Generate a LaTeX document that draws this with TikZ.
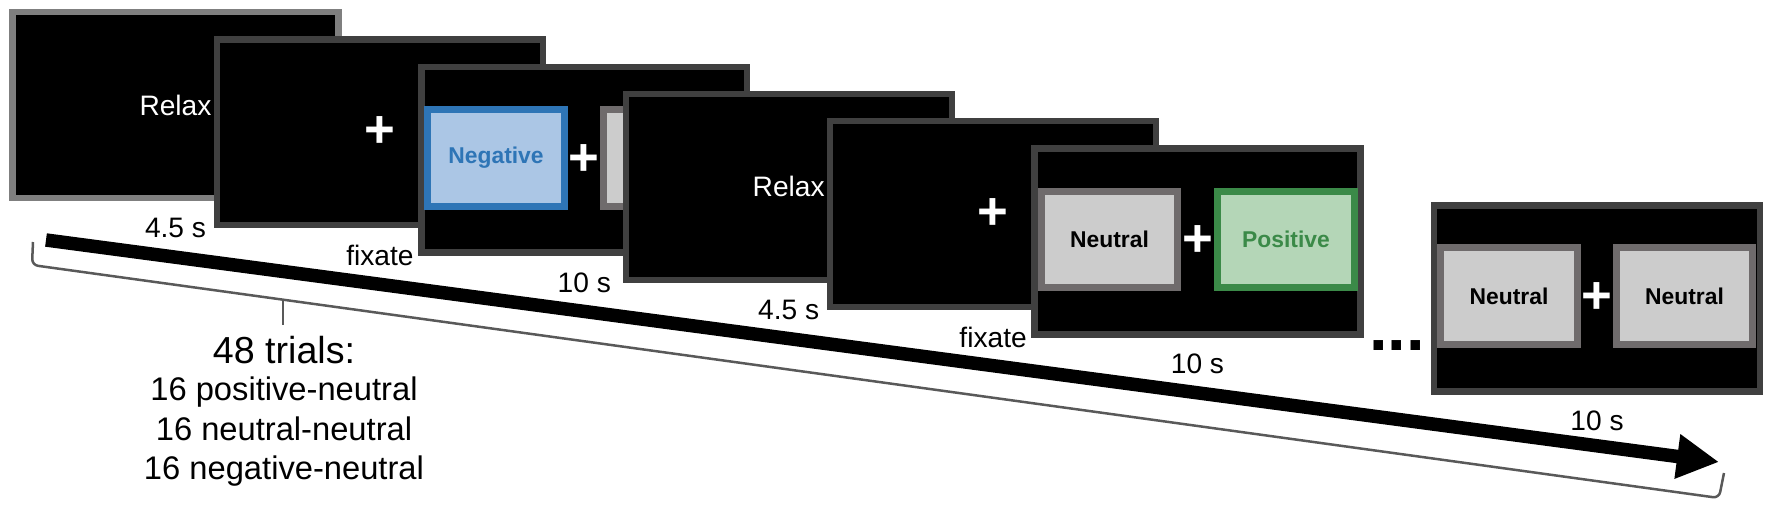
\documentclass[tikz,border=0pt]{standalone}
\usepackage{fontspec}
\setmainfont{Liberation Sans}
\usetikzlibrary{arrows.meta,positioning}

\definecolor{scrline}{HTML}{404040}
\definecolor{scrold}{HTML}{7F7F7F}
\definecolor{neuedge}{HTML}{6F6B6C}
\definecolor{neufill}{HTML}{CCCCCC}
\definecolor{negedge}{HTML}{2E75B6}
\definecolor{negfill}{HTML}{ABC6E5}
\definecolor{posedge}{HTML}{3B8A48}
\definecolor{posfill}{HTML}{B4D6B7}
\definecolor{brgray}{HTML}{595959}

\begin{document}
\begin{tikzpicture}[x=0.01cm,y=-0.01cm,
  scr/.style={draw=scrline,fill=black,line width=0.63mm,inner sep=0pt,
    minimum width=3.257cm,minimum height=1.857cm},
  word/.style={text=white,font=\fontsize{8pt}{9pt}\selectfont},
  cross/.style={text=white,font=\fontsize{15pt}{15pt}\selectfont\bfseries},
  img/.style={line width=0.7mm,inner sep=0pt,minimum width=1.36cm,minimum height=0.96cm,
    font=\fontsize{6.5pt}{7pt}\selectfont\bfseries},
  neubox/.style={img,draw=neuedge,fill=neufill,text=black},
  negbox/.style={img,draw=negedge,fill=negfill,text=negedge},
  posbox/.style={img,draw=posedge,fill=posfill,text=posedge},
  lbl/.style={font=\fontsize{8pt}{9pt}\selectfont,inner sep=0pt,below=1.6mm of #1},
  ar/.style={-{Triangle[length=4.2mm,width=4.2mm]},line width=1.35mm},
  br/.style={draw=brgray,line width=0.25mm,line join=round}]

  \useasboundingbox (0,0) rectangle (1772,506);

  \coordinate (tail) at (46,240);
  \coordinate (head) at (1719,462);
  \draw[ar] (tail) -- (head);

  \coordinate (bA) at (33,242);
  \coordinate (bB) at (32,265);
  \coordinate (bM) at (283,299.7);
  \coordinate (bT) at (283,325);
  \coordinate (bC) at (1719,498);
  \coordinate (bD) at (1724,473);
  \draw[br,rounded corners=0.6mm] (bA) -- (bB) -- (bC) -- (bD);
  \draw[br] (bM) -- (bT);

  \node[scr,draw=scrold,word] (relax1) at (175.5,105)  {Relax};
  \node[scr,cross]  (fix1)   at (379.9,132.3)  {+};
  \node[scr,cross]  (trial1) at (584.3,159.6)  {+};
  \node[negbox] (neg1) at (496,158) {Negative};
  \node[neubox] (neu1) at (672,158) {Neutral};
  \node[scr,word]   (relax2) at (788.7,186.9)  {Relax};
  \node[scr,cross]  (fix2)   at (993.1,214.2)  {+};
  \node[scr,cross]  (trial2) at (1197.5,241.5) {+};
  \node[neubox] (neu2) at (1109.5,239.5) {Neutral};
  \node[posbox] (pos2) at (1286,239.5)   {Positive};

  \node[font=\fontsize{19pt}{19pt}\selectfont\bfseries,anchor=base] (dots) at (1397,350) {...};

  \node[scr,cross]  (trial3) at (1597,298.5)   {+};
  \node[neubox] (neu3a) at (1509,296)   {Neutral};
  \node[neubox] (neu3b) at (1684.5,296) {Neutral};

  \node[lbl=relax1] (d1) {4.5 s};
  \node[lbl=fix1]   (d2) {fixate};
  \node[lbl=trial1] (d3) {10 s};
  \node[lbl=relax2] (d4) {4.5 s};
  \node[lbl=fix2]   (d5) {fixate};
  \node[lbl=trial2] (d6) {10 s};
  \node[lbl=trial3] (d7) {10 s};

  \node[font=\fontsize{10.7pt}{12pt}\selectfont] (trials) at (284,350) {48 trials:};
  \node[font=\fontsize{9.3pt}{11.24pt}\selectfont,align=center] (split) at (284,432)
    {16 positive-neutral\\16 neutral-neutral\\16 negative-neutral};
\end{tikzpicture}
\end{document}
